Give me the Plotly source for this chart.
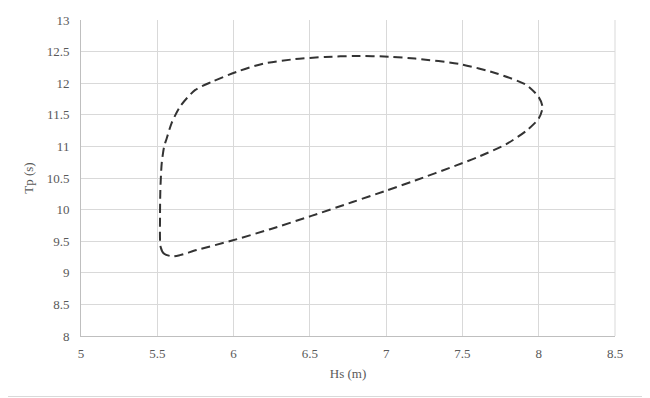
import plotly.graph_objects as go

# Contour points (Hs in m, Tp in s)
hs = [5.60, 5.545, 5.522, 5.518, 5.520, 5.529, 5.545, 5.562, 5.594, 5.649, 5.747, 5.856,
      6.02, 6.195, 6.40, 6.60, 6.80, 7.02, 7.19, 7.49, 7.73, 7.92, 8.00, 8.025, 8.00, 7.92,
      7.79, 7.60, 7.46, 7.19, 7.00, 6.78, 6.51, 6.24, 5.99, 5.758, 5.649, 5.60]
tp = [9.26, 9.30, 9.41, 9.89, 10.3, 10.73, 11.0, 11.13, 11.37, 11.63, 11.89, 12.02,
      12.18, 12.31, 12.38, 12.415, 12.43, 12.42, 12.39, 12.30, 12.15, 11.97, 11.78, 11.62, 11.44, 11.25,
      11.04, 10.83, 10.70, 10.46, 10.30, 10.12, 9.90, 9.69, 9.51, 9.36, 9.28, 9.26]

x_ticks = [5, 5.5, 6, 6.5, 7, 7.5, 8, 8.5]
y_ticks = [8, 8.5, 9, 9.5, 10, 10.5, 11, 11.5, 12, 12.5, 13]

fig = go.Figure()
fig.add_trace(go.Scatter(
    x=hs, y=tp, mode="lines",
    line=dict(color="#333333", width=2, dash="9px,5px", shape="spline", smoothing=0.7),
    showlegend=False, hoverinfo="skip"))

# page body has an 8px margin; compensate so the plot area sits where the reference has it
W, H = 642, 390
ml, mr, mt, mb = 73, 35, 12, 62
fam = "Times New Roman, Liberation Serif, DejaVu Serif, serif"
tfont = dict(family=fam, size=13, color="#595959")

fig.update_layout(
    width=W, height=H,
    margin=dict(l=ml, r=mr, t=mt, b=mb, autoexpand=False),
    paper_bgcolor="white", plot_bgcolor="white",
    font=tfont,
    xaxis=dict(range=[5, 8.5], tickvals=x_ticks, ticktext=[str(v) for v in x_ticks],
               tickfont=tfont, automargin=False, ticklabelstandoff=5,
               showgrid=True, gridcolor="#d9d9d9", gridwidth=1,
               showline=True, linecolor="#bfbfbf", linewidth=1,
               zeroline=False, ticks="",
               title=dict(text="Hs (m)", font=tfont, standoff=9)),
    yaxis=dict(range=[8, 13], tickvals=y_ticks, ticktext=[str(v) for v in y_ticks],
               tickfont=tfont, automargin=False, ticklabelstandoff=8,
               showgrid=True, gridcolor="#d9d9d9", gridwidth=1,
               showline=True, linecolor="#bfbfbf", linewidth=1,
               zeroline=False, ticks="",
               title=dict(text="Tp (s)", font=tfont, standoff=10)),
)

pw, ph = W - ml - mr, H - mt - mb
# outer frame (right and bottom edges of the image)
fig.add_shape(type="line", xref="paper", yref="paper",
              x0=(pw + mr - 1.5) / pw, x1=(pw + mr - 1.5) / pw,
              y0=(-mb + 1) / ph, y1=(ph + mt) / ph,
              line=dict(color="#d9d9d9", width=1), layer="below")
fig.add_shape(type="line", xref="paper", yref="paper",
              x0=-ml / pw, x1=(pw + mr) / pw,
              y0=(-mb + 1.5) / ph, y1=(-mb + 1.5) / ph,
              line=dict(color="#d9d9d9", width=1), layer="below")
# right edge of plot area
fig.add_shape(type="line", xref="paper", yref="paper", x0=1, x1=1, y0=0, y1=1,
              line=dict(color="#d9d9d9", width=1), layer="below")

fig.write_html("out.html")
